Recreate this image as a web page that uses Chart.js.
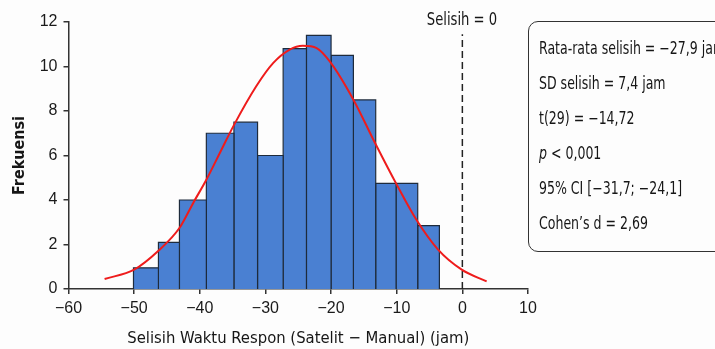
<!DOCTYPE html>
<html>
<head>
<meta charset="utf-8">
<script src="https://cdn.jsdelivr.net/npm/chart.js@4.4.1/dist/chart.umd.min.js"></script>
<style>
  html, body { margin: 0; padding: 0; background: #fdfdfd; overflow: hidden; }
  #wrap { position: relative; width: 715px; height: 349px; overflow: hidden; background: #fdfdfd; }
  #c { position: absolute; left: 0; top: 0; }
  .narrow { font-family: 'Liberation Sans Narrow', 'DejaVu Sans Condensed', Roboto, sans-serif; color: #161616; }
  #zeroLabel { position: absolute; left: 412px; width: 100px; text-align: center; top: 9px; font-size: 17px; line-height: 20px; transform: scaleX(0.86); transform-origin: 50px 0; }
  #statsBox { position: absolute; left: 528px; top: 21px; width: 220px; height: 229px; border: 1.5px solid #333; border-radius: 10px; }
  .stat { position: absolute; left: 539px; font-size: 17px; line-height: 20px; white-space: nowrap; transform: scaleX(0.82); transform-origin: 0 0; }
</style>
</head>
<body>
<div id="wrap">
  <canvas id="c" width="715" height="349"></canvas>
  <div id="zeroLabel" class="narrow">Selisih = 0</div>
  <div id="statsBox"></div>
  <div id="stats"></div>
</div>
<script>
// ---- data ----
const binEdges = [-50.1, -46.3, -43.1, -39.0, -34.8, -31.2, -27.3, -23.75, -20.0, -16.6, -13.2, -10.1, -6.8, -3.5];
const counts   = [0.95, 2.1, 4.0, 7.0, 7.5, 6.0, 10.8, 11.4, 10.5, 8.5, 4.75, 4.75, 2.85];

const curveX = [-54.5, -50.0, -46.3, -43.1, -41.0, -39.0, -36.7, -34.9, -31.4, -28.8, -26.3, -24.3, -22.2, -20.2, -16.6, -13.3, -10.0, -7.0, -3.7, -0.1, 3.7];
const curveY = [0.45, 0.87, 1.72, 2.74, 3.87, 4.91, 6.26, 7.31, 9.11, 10.16, 10.76, 10.93, 10.83, 10.23, 8.51, 6.56, 4.69, 3.11, 1.77, 0.87, 0.34];

const zeroLineX = [0, 0];
const zeroLineY = [0, 11.45];

const xTickValues = [-60, -50, -40, -30, -20, -10, 0, 10];
const yTickValues = [0, 2, 4, 6, 8, 10, 12];

const xTitle = 'Selisih Waktu Respon (Satelit − Manual) (jam)';
const yTitle = 'Frekuensi';
const statLines = [
  'Rata-rata selisih = −27,9 jam',
  'SD selisih = 7,4 jam',
  't(29) = −14,72',
  '<i>p</i> &lt; 0,001',
  '95% CI [−31,7; −24,1]',
  'Cohen’s d = 2,69'
];

// ---- stats box text ----
const statCenters = [48, 83, 118, 153, 188, 223];
const statsDiv = document.getElementById('stats');
statLines.forEach((t, i) => {
  const d = document.createElement('div');
  d.className = 'stat narrow';
  d.style.top = (statCenters[i] - 10) + 'px';
  d.innerHTML = t;
  statsDiv.appendChild(d);
});

// ---- datasets ----
const fmt = v => (v < 0 ? '−' + Math.abs(v) : String(v));
const datasets = [];

datasets.push({
  label: 'Kurva normal',
  data: curveX.map((x, i) => ({ x, y: curveY[i] })),
  showLine: true,
  borderColor: '#ee1c1c',
  borderWidth: 2,
  pointRadius: 0,
  cubicInterpolationMode: 'monotone',
  fill: false,
  order: 0
});

datasets.push({
  label: 'Selisih = 0',
  data: zeroLineX.map((x, i) => ({ x, y: zeroLineY[i] })),
  showLine: true,
  borderColor: '#222',
  borderWidth: 1.5,
  borderDash: [7, 4],
  pointRadius: 0,
  fill: false,
  order: 1
});

counts.forEach((c, i) => {
  const x0 = binEdges[i], x1 = binEdges[i + 1];
  datasets.push({
    label: 'Bin ' + (i + 1),
    data: [{ x: x0, y: 0 }, { x: x0, y: c }, { x: x1, y: c }, { x: x1, y: 0 }],
    showLine: true,
    borderColor: '#1e2b3c',
    borderWidth: 1.2,
    backgroundColor: '#4a80d2',
    fill: 'origin',
    pointRadius: 0,
    tension: 0,
    order: 2
  });
});

const tickFont = { family: "'Liberation Sans', Arial, sans-serif", size: 16 };
const narrowFam = "'Liberation Sans Narrow', 'DejaVu Sans Condensed', Roboto, sans-serif";

new Chart(document.getElementById('c'), {
  type: 'scatter',
  data: { datasets },
  options: {
    responsive: false,
    animation: false,
    devicePixelRatio: 1,
    layout: { padding: { top: 22, right: 187, left: 0, bottom: 0 } },
    plugins: { legend: { display: false }, tooltip: { enabled: false } },
    scales: {
      x: {
        type: 'linear',
        min: -60, max: 10,
        afterBuildTicks: s => { s.ticks = xTickValues.map(v => ({ value: v })); },
        afterFit: s => { s.height = 60; },
        ticks: { font: tickFont, color: '#1a1a1a', padding: 5, callback: fmt, maxRotation: 0 },
        grid: { drawOnChartArea: false, drawTicks: true, tickLength: 5, color: '#333', lineWidth: 1.5 },
        border: { display: true, color: '#333', width: 1.5 },
        title: { display: true, text: xTitle, color: '#161616', font: { family: narrowFam, size: 16.5 }, padding: { top: 0, bottom: 0 } }
      },
      y: {
        type: 'linear',
        min: 0, max: 12,
        afterBuildTicks: s => { s.ticks = yTickValues.map(v => ({ value: v })); },
        afterFit: s => { s.width = 68.5; },
        ticks: { font: tickFont, color: '#1a1a1a', padding: 6, callback: fmt },
        grid: { drawOnChartArea: false, drawTicks: true, tickLength: 5, color: '#333', lineWidth: 1.5 },
        border: { display: true, color: '#333', width: 1.5 },
        title: { display: true, text: yTitle, color: '#161616', font: { family: narrowFam, size: 16, weight: 'bold' }, padding: { top: 10, bottom: 0 } }
      }
    }
  }
});
</script>
</body>
</html>
